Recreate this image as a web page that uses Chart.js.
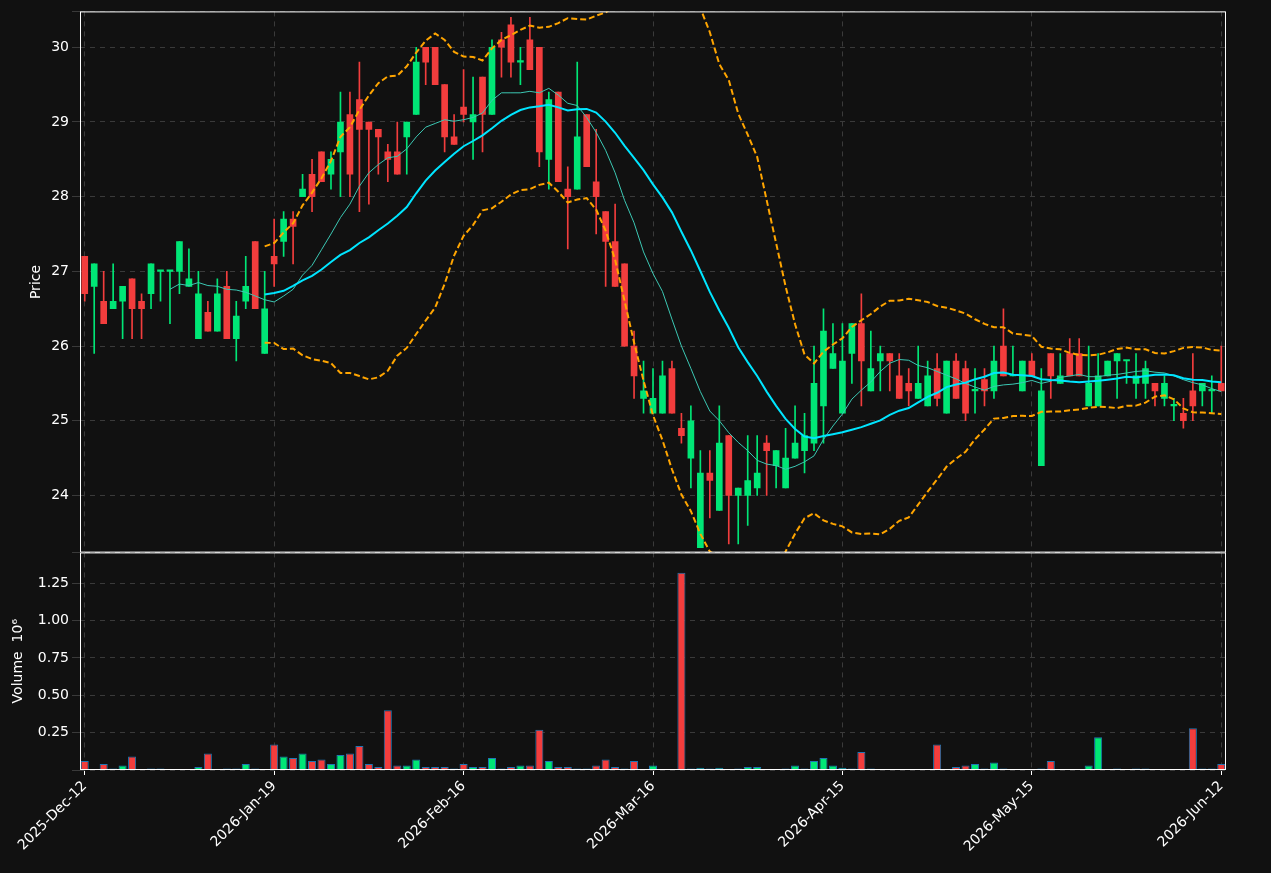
<!DOCTYPE html>
<html>
<head>
<meta charset="utf-8">
<script src="https://cdn.jsdelivr.net/npm/chart.js@4"></script>
<style>
  html, body { margin: 0; padding: 0; background: #111111; }
  #wrap { width: 1271px; height: 873px; position: relative; overflow: hidden; }
</style>
</head>
<body>
<div id="wrap">
  <div style="position:absolute;left:0;top:0;width:1271px;height:564px"><canvas id="priceChart"></canvas></div>
  <div style="position:absolute;left:0;top:541px;width:1271px;height:332px"><canvas id="volumeChart"></canvas></div>
</div>
<script>
// Tick labels every 20 sessions
const tickLabels = ['2025-Dec-12', '2026-Jan-19', '2026-Feb-16', '2026-Mar-16', '2026-Apr-15', '2026-May-15', '2026-Jun-12'];

const opens = [27.2, 26.8, 26.6, 26.5, 26.6, 26.9, 26.6, 26.7, 27.0, 27.0,
    27.0, 26.8, 26.1, 26.45, 26.2, 26.8, 26.1, 26.6, 27.4, 25.9,
    27.2, 27.4, 27.7, 28.0, 28.3, 28.6, 28.3, 28.6, 29.1, 29.3,
    29.0, 28.9, 28.6, 28.6, 28.8, 29.1, 30.0, 30.0, 29.5, 28.8,
    29.2, 29.0, 29.6, 29.1, 30.1, 30.3, 29.8, 30.1, 30.0, 28.5,
    29.4, 28.1, 28.1, 29.1, 28.2, 27.8, 27.4, 27.1, 26.0, 25.3,
    25.1, 25.1, 25.7, 24.9, 24.5, 23.3, 24.3, 23.8, 24.8, 24.0,
    24.0, 24.1, 24.7, 24.4, 24.1, 24.5, 24.6, 24.7, 25.2, 25.7,
    25.1, 25.9, 26.3, 25.4, 25.8, 25.9, 25.6, 25.5, 25.3, 25.2,
    25.7, 25.1, 25.8, 25.7, 25.4, 25.55, 25.4, 26.0, 25.6, 25.4,
    25.8, 24.4, 25.9, 25.5, 25.9, 25.9, 25.2, 25.2, 25.6, 25.8,
    25.8, 25.5, 25.5, 25.5, 25.3, 25.2, 25.1, 25.4, 25.4, 25.4, 25.5];
const highs = [27.2, 27.1, 27.0, 27.1, 26.8, 26.9, 26.7, 27.1, 27.0, 27.0,
    27.4, 27.3, 27.0, 26.6, 26.9, 27.0, 26.6, 27.2, 27.4, 27.0,
    27.7, 27.8, 27.8, 28.3, 28.5, 28.6, 28.6, 29.4, 29.4, 29.8,
    29.0, 28.9, 28.7, 29.0, 29.0, 30.0, 30.0, 30.0, 29.5, 29.1,
    29.7, 29.6, 29.6, 30.1, 30.2, 30.4, 30.0, 30.4, 30.0, 29.4,
    29.4, 28.4, 29.8, 29.1, 28.9, 27.8, 27.9, 27.1, 26.2, 25.8,
    25.7, 25.8, 25.8, 25.1, 25.2, 24.6, 24.6, 25.2, 24.8, 24.1,
    24.8, 24.8, 24.8, 24.6, 24.9, 25.2, 25.1, 26.0, 26.5, 26.3,
    26.3, 26.3, 26.7, 26.2, 26.0, 25.9, 25.9, 25.7, 26.0, 25.8,
    25.9, 25.8, 25.9, 25.8, 25.7, 25.7, 26.0, 26.5, 26.0, 25.8,
    25.9, 25.7, 25.9, 25.9, 26.1, 26.1, 26.0, 25.9, 25.8, 25.9,
    25.8, 25.9, 25.8, 25.5, 25.6, 25.3, 25.3, 25.9, 25.5, 25.6, 26.0];
const lows = [26.6, 25.9, 26.3, 26.5, 26.1, 26.1, 26.1, 26.5, 26.6, 26.3,
    26.7, 26.8, 26.1, 26.2, 26.2, 26.1, 25.8, 26.5, 26.5, 25.9,
    26.8, 27.2, 27.1, 28.0, 27.8, 28.2, 28.1, 28.0, 28.0, 27.8,
    27.9, 28.3, 28.2, 28.3, 28.3, 29.1, 29.5, 29.5, 28.6, 28.7,
    29.0, 28.5, 28.6, 29.1, 29.6, 29.6, 29.5, 29.7, 28.4, 28.1,
    28.2, 27.3, 28.1, 28.4, 27.5, 26.8, 26.8, 26.0, 25.3, 25.1,
    25.1, 25.1, 25.1, 24.7, 24.1, 23.3, 23.7, 23.8, 23.35, 23.35,
    23.6, 24.0, 24.0, 24.1, 24.1, 24.5, 24.3, 24.6, 24.7, 25.7,
    25.1, 25.5, 25.2, 25.4, 25.4, 25.4, 25.3, 25.2, 25.3, 25.2,
    25.2, 25.1, 25.3, 25.0, 25.1, 25.2, 25.3, 25.6, 25.6, 25.4,
    25.6, 24.4, 25.3, 25.5, 25.6, 25.6, 25.2, 25.2, 25.6, 25.3,
    25.5, 25.3, 25.3, 25.2, 25.2, 25.0, 24.9, 25.0, 25.2, 25.1, 25.4];
const closes = [26.7, 27.1, 26.3, 26.6, 26.8, 26.5, 26.5, 27.1, 27.0, 27.0,
    27.4, 26.9, 26.7, 26.2, 26.7, 26.1, 26.4, 26.8, 26.5, 26.5,
    27.1, 27.7, 27.6, 28.1, 28.0, 28.2, 28.5, 29.0, 28.3, 28.9,
    28.9, 28.8, 28.5, 28.3, 29.0, 29.8, 29.8, 29.5, 28.8, 28.7,
    29.1, 29.1, 29.1, 30.0, 30.0, 29.8, 29.8, 29.7, 28.6, 29.3,
    28.2, 28.0, 28.8, 28.4, 28.0, 27.4, 26.8, 26.0, 25.6, 25.4,
    25.3, 25.6, 25.1, 24.8, 25.0, 24.3, 24.2, 24.7, 24.0, 24.1,
    24.2, 24.3, 24.6, 24.6, 24.5, 24.7, 24.8, 25.5, 26.2, 25.9,
    25.8, 26.3, 25.8, 25.7, 25.9, 25.8, 25.3, 25.4, 25.5, 25.6,
    25.3, 25.8, 25.3, 25.1, 25.4, 25.4, 25.8, 25.6, 25.6, 25.8,
    25.6, 25.4, 25.6, 25.6, 25.6, 25.6, 25.5, 25.6, 25.8, 25.9,
    25.8, 25.6, 25.7, 25.4, 25.5, 25.2, 25.0, 25.2, 25.5, 25.4, 25.4];
// Volume in millions
const volumes = [0.06, 0.005, 0.04, 0.01, 0.03, 0.09, 0.003, 0.01, 0.01, 0.002,
    0.002, 0.002, 0.02, 0.11, 0.005, 0.01, 0.01, 0.04, 0.01, 0.005,
    0.17, 0.09, 0.08, 0.11, 0.06, 0.07, 0.04, 0.10, 0.11, 0.16,
    0.04, 0.02, 0.40, 0.03, 0.03, 0.07, 0.02, 0.02, 0.02, 0.01,
    0.04, 0.02, 0.02, 0.08, 0.01, 0.02, 0.03, 0.03, 0.27, 0.06,
    0.02, 0.02, 0.01, 0.01, 0.03, 0.07, 0.02, 0.01, 0.06, 0.005,
    0.03, 0.002, 0.005, 1.32, 0.01, 0.015, 0.01, 0.015, 0.002, 0.01,
    0.02, 0.02, 0.005, 0.002, 0.01, 0.03, 0.01, 0.06, 0.08, 0.03,
    0.015, 0.01, 0.12, 0.01, 0.002, 0.002, 0.002, 0.002, 0.005, 0.002,
    0.17, 0.002, 0.02, 0.03, 0.04, 0.01, 0.05, 0.01, 0.005, 0.002,
    0.005, 0.01, 0.06, 0.002, 0.002, 0.005, 0.03, 0.22, 0.002, 0.01,
    0.005, 0.01, 0.01, 0.005, 0.005, 0.002, 0.002, 0.28, 0.01, 0.01, 0.04];

const UP = '#00e676';
const DOWN = '#f23d3d';
const GRID = '#3a3a3a';
const AXIS_W = 80;

const idx = closes.map((_, i) => i);
const isUp = closes.map((c, i) => c >= opens[i]);
const candleColors = isUp.map(u => (u ? UP : DOWN));

// Rolling mean / std of closes (indicator lines)
function rolling(n, fn) {
    return closes.map((_, i) => {
        if (i < n - 1) return null;
        const w = closes.slice(i - n + 1, i + 1);
        const m = w.reduce((a, b) => a + b, 0) / n;
        if (fn === 'mean') return m;
        const sd = Math.sqrt(w.reduce((a, b) => a + (b - m) * (b - m), 0) / n);
        return fn === 'upper' ? m + 2 * sd : m - 2 * sd;
    });
}

Chart.defaults.font.family = 'DejaVu Sans';
Chart.defaults.font.size = 14;
Chart.defaults.color = '#ffffff';
Chart.defaults.animation = false;

function tickCb(value, i) {
    return i % 20 === 0 ? tickLabels[i / 20] : '';
}

const frame = {
    id: 'frame',
    afterDraw(chart) {
        const a = chart.chartArea;
        const ctx = chart.ctx;
        ctx.save();
        ctx.strokeStyle = '#ffffff';
        ctx.lineWidth = 1;
        ctx.strokeRect(a.left + 0.5, a.top + 0.5, a.right - a.left - 1, a.bottom - a.top - 1);
        ctx.restore();
    }
};

const xGridColor = ctx => (ctx.index % 20 === 0 ? GRID : 'rgba(0,0,0,0)');
const xTickColor = ctx => (ctx.index % 20 === 0 ? '#ffffff' : 'rgba(0,0,0,0)');

new Chart(document.getElementById('priceChart'), {
    data: {
        labels: idx,
        datasets: [
            { type: 'line', label: 'SMA20', data: rolling(20, 'mean'), borderColor: '#00e5ff', borderWidth: 2, pointRadius: 0, order: 1 },
            { type: 'line', label: 'SMA10', data: rolling(10, 'mean'), borderColor: '#3cc8b4', borderWidth: 1, pointRadius: 0, order: 2 },
            { type: 'line', label: 'BB upper', data: rolling(20, 'upper'), borderColor: '#ffa500', borderWidth: 2, borderDash: [6, 3], pointRadius: 0, order: 3 },
            { type: 'line', label: 'BB lower', data: rolling(20, 'lower'), borderColor: '#ffa500', borderWidth: 2, borderDash: [6, 3], pointRadius: 0, order: 3 },
            { type: 'bar', label: 'body', data: idx.map(i => [opens[i], closes[i]]), backgroundColor: candleColors, barThickness: 6, minBarLength: 1.5, grouped: false, order: 4 },
            { type: 'bar', label: 'wick', data: idx.map(i => [lows[i], highs[i]]), backgroundColor: candleColors, barThickness: 1, grouped: false, order: 5 }
        ]
    },
    options: {
        responsive: true,
        maintainAspectRatio: false,
        layout: { padding: { top: 10, right: 45, left: 0, bottom: 0 } },
        plugins: { legend: { display: false }, tooltip: { enabled: false } },
        scales: {
            x: {
                offset: true,
                afterFit: s => { s.height = 0; },
                grid: { color: xGridColor, offset: false, drawTicks: false },
                border: { display: false, dash: [5, 5] },
                ticks: { display: false, autoSkip: false }
            },
            y: {
                min: 23.235, max: 30.48,
                afterFit: s => { s.width = AXIS_W; },
                grid: { color: GRID },
                border: { display: false, dash: [5, 5] },
                ticks: { stepSize: 1, callback: v => (Number.isInteger(v) && v >= 24 ? v : '') },
                title: { display: true, text: 'Price', padding: { top: 28, bottom: 0 } }
            }
        }
    },
    plugins: [frame]
});

new Chart(document.getElementById('volumeChart'), {
    type: 'bar',
    data: {
        labels: idx,
        datasets: [{
            label: 'Volume',
            data: volumes,
            backgroundColor: candleColors,
            borderColor: '#1f77b4',
            borderWidth: 1,
            barPercentage: 0.85,
            categoryPercentage: 1
        }]
    },
    options: {
        responsive: true,
        maintainAspectRatio: false,
        layout: { padding: { top: 0, right: 45, left: 0, bottom: 0 } },
        plugins: { legend: { display: false }, tooltip: { enabled: false } },
        scales: {
            x: {
                offset: true,
                afterFit: s => { s.height = 103; },
                grid: { color: xGridColor, offset: false, tickLength: 5, tickColor: xTickColor },
                border: { display: false, dash: [5, 5] },
                ticks: { autoSkip: false, maxRotation: 45, minRotation: 45, callback: tickCb }
            },
            y: {
                min: 0, max: 1.457,
                afterFit: s => { s.width = AXIS_W; },
                grid: { color: GRID },
                border: { display: false, dash: [5, 5] },
                ticks: { stepSize: 0.25, callback: v => (v > 0 && v < 1.4 ? v.toFixed(2) : '') },
                title: { display: true, text: 'Volume  10⁶', padding: { top: 10, bottom: 0 } }
            }
        }
    },
    plugins: [frame]
});
</script>
</body>
</html>
